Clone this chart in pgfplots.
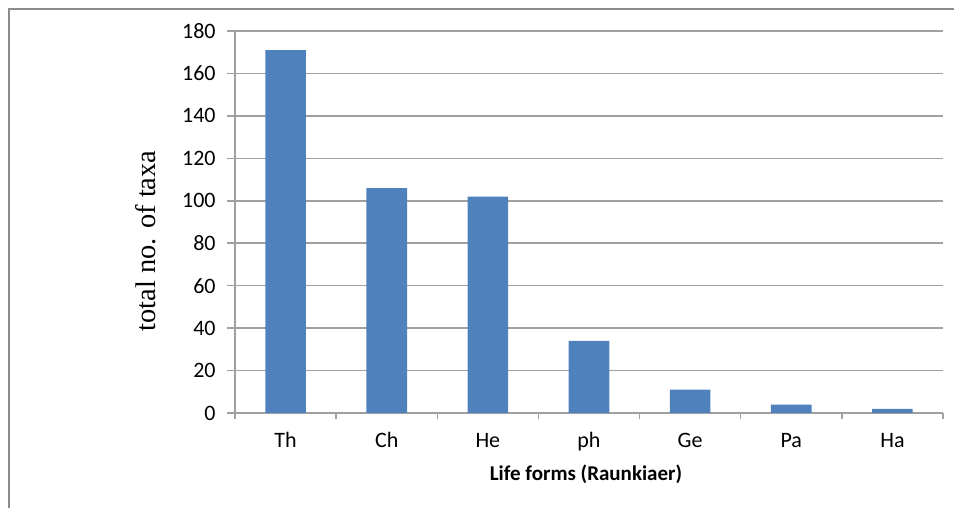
\documentclass[border=0pt]{standalone}
\usepackage{pgfplots}
\pgfplotsset{compat=1.18}
\usepackage{fontspec}
\setmainfont{Carlito}
\newfontfamily\seriffont{Liberation Serif}
\definecolor{barblue}{HTML}{4F81BD}
\definecolor{gridgray}{HTML}{A0A0A0}
\definecolor{framegray}{HTML}{8C8C8C}
\begin{document}
\begin{tikzpicture}[x=1pt,y=1pt]
\useasboundingbox (0,0) rectangle (477,254);
\draw[framegray, line width=0.8pt] (4.5,0) -- (4.5,249.5) -- (477,249.5);
\begin{axis}[
  at={(117.5pt,47.5pt)}, anchor=south west,
  scale only axis, width=354pt, height=191pt,
  ymin=0, ymax=180, ytick={0,20,...,180},
  xmin=-0.5, xmax=6.5,
  xtick={0,...,6},
  xticklabels={Th,Ch,He,ph,Ge,Pa,Ha},
  minor xtick={-0.5,0.5,...,6.5},
  axis x line*=bottom, axis y line*=left,
  axis line style={draw=gridgray, line width=0.75pt, -},
  ymajorgrids, grid style={draw=gridgray, line width=0.75pt},
  tick align=outside,
  major tick length=4pt, minor tick length=3pt,
  major x tick style={draw=none},
  minor x tick style={draw=gridgray, line width=0.75pt},
  ytick style={draw=gridgray, line width=0.75pt},
  tick label style={font=\fontsize{11}{13}\selectfont, text=black},
  /pgf/number format/assume math mode=true,
  yticklabel style={anchor=east, inner sep=0pt, xshift=-5.5pt},
  xticklabel style={anchor=base, inner sep=0pt, yshift=-13.3pt},
  xlabel={\bfseries Life forms (Raunkiaer)},
  xlabel style={font=\fontsize{10.5}{12}\selectfont, at={(rel axis cs:0.5,0)}, anchor=base, inner sep=0pt, xshift=-1.5pt, yshift=-34pt},
  ylabel={total no. of taxa},
  ylabel style={font=\seriffont\fontsize{14.2}{16}\selectfont, at={(rel axis cs:0,0.5)}, anchor=center, xshift=-9.5pt, yshift=44.5pt},
  ybar, bar width=20.3pt,
]
\addplot[fill=barblue, draw=none] coordinates {
  (0,171) (1,106) (2,102) (3,34) (4,11) (5,4) (6,2)
};
\end{axis}
\end{tikzpicture}
\end{document}
